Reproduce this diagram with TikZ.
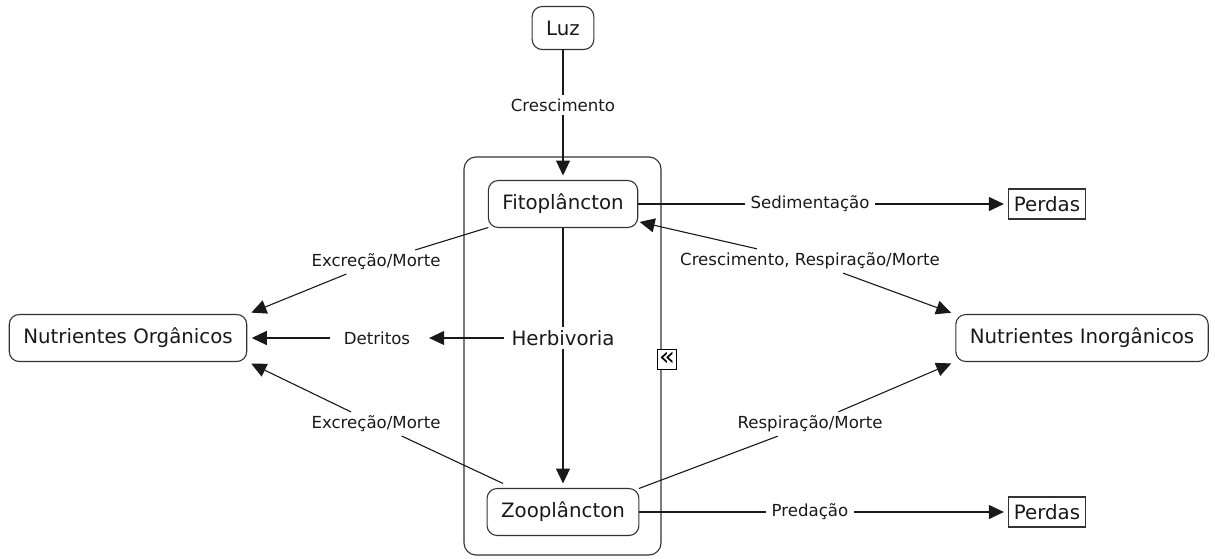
\documentclass[tikz,border=0pt]{standalone}
\usepackage{fontspec}
\setmainfont{DejaVu Sans}
\usetikzlibrary{arrows.meta,positioning}
\tikzset{
  base/.style={align=center, inner sep=3pt, outer sep=0mm, text=black!90},
  concept/.style={base, rectangle, draw=black!80, line width=1.1pt, rounded corners=10pt, minimum height=47pt, inner xsep=14pt, font=\fontsize{19.8}{23}\selectfont},
  phrase/.style={base, font=\fontsize{16.6}{19}\selectfont, inner xsep=6pt, inner ysep=4pt},
  loss/.style={base, rectangle, draw=black!80, line width=1.1pt, minimum height=30pt, inner xsep=5pt, font=\fontsize{19.8}{23}\selectfont},
  link/.style={line width=1.1pt, draw=black!90},
  arrow/.style={link, -{Triangle[length=15pt,width=14pt]}, shorten >=5pt}
}

\begin{document}
\begin{tikzpicture}[x=1pt, y=-1pt]
    \useasboundingbox (0,0) rectangle (1215,559);
    \tikzset{group/.style={rectangle, draw=black!80, line width=1.1pt, rounded corners=12pt, minimum width=197pt, minimum height=398pt}}
    \tikzset{toggle/.style={rectangle, draw=black, line width=0.9pt, fill=white, inner sep=0pt, minimum width=19pt, minimum height=20pt, font=\fontsize{26}{26}\selectfont}}

    % grouping box round the two plankton concepts
    \node[group] (grupo) at (562.5,356) {};
    \node[toggle] (recolher) at (667,359) {«};

    \node[concept, minimum height=43pt] (luz) at (563,28) {Luz};
    \node[concept] (fito) at (563,204) {Fitoplâncton};
    \node[concept] (zoo) at (563,512) {Zooplâncton};
    \node[concept] (norg) at (128,338) {Nutrientes Orgânicos};
    \node[concept] (ninorg) at (1082,338) {Nutrientes Inorgânicos};
    \node[loss] (perdasA) at (1047,204) {Perdas};
    \node[loss] (perdasB) at (1047,512) {Perdas};
    \node[base, font=\fontsize{19.8}{23}\selectfont, inner xsep=8pt] (herb) at (563,338) {Herbivoria};

    % linking phrases
    \node[phrase] (cresc) at (563,105) {Crescimento};
    \node[phrase] (sed) at (810,204) {Sedimentação};
    \node[phrase] (pred) at (810,512) {Predação};
    \node[phrase, inner xsep=14pt] (detr) at (377,338) {Detritos};
    \node[phrase] (exc1) at (376,262) {Excreção/Morte};
    \node[phrase] (exc2) at (376,424) {Excreção/Morte};
    \node[phrase] (crm) at (810,261) {Crescimento, Respiração/Morte};
    \node[phrase] (resp) at (810,424) {Respiração/Morte};

    \draw[link] (luz) -- (cresc);
    \draw[arrow] (cresc) -- (fito);
    \draw[link] (fito) -- (sed);
    \draw[arrow] (sed) -- (perdasA);
    \draw[link] (fito) -- (herb);
    \draw[arrow] (herb) -- (zoo);
    \draw[arrow] (herb) -- (detr);
    \draw[arrow] (detr) -- (norg);
    \draw[link] (fito.south west) -- (exc1);
    \draw[arrow] (exc1) -- (norg.north east);
    \draw[link] ([xshift=16pt,yshift=5pt]zoo.north west) -- (exc2);
    \draw[arrow] (exc2) -- (norg.south east);
    \draw[arrow, shorten >=2pt] (crm) -- ([yshift=6pt]fito.south east);
    \draw[arrow] (crm) -- (ninorg.north west);
    \draw[link] (zoo.north east) -- (resp);
    \draw[arrow] (resp) -- (ninorg.south west);
    \draw[link] (zoo) -- (pred);
    \draw[arrow] (pred) -- (perdasB);
\end{tikzpicture}
\end{document}
